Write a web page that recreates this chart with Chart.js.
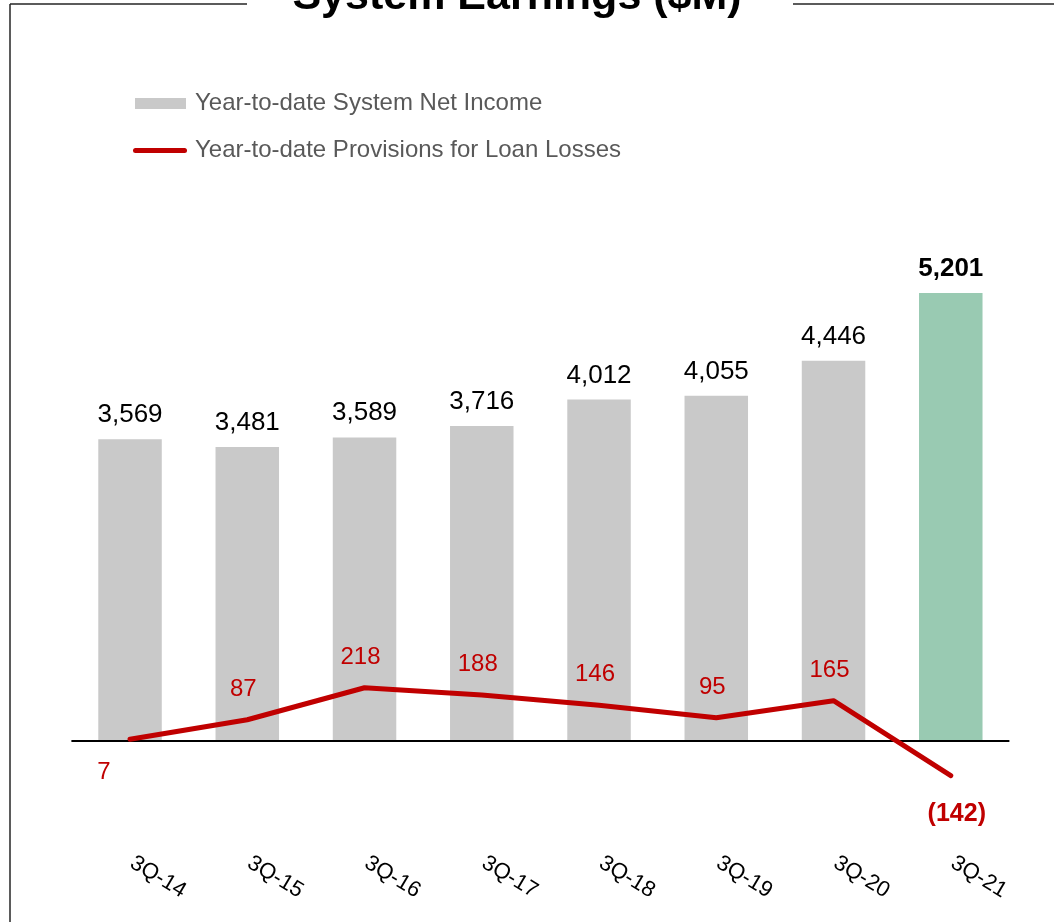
<!DOCTYPE html>
<html>
<head>
<meta charset="utf-8">
<script src="https://cdn.jsdelivr.net/npm/chart.js@4"></script>
<style>
  html, body { margin: 0; padding: 0; background: #ffffff; }
  canvas { display: block; }
</style>
</head>
<body>
<canvas id="c" width="1054" height="922"></canvas>
<script>
// ---- data ----
const categories = ['3Q-14', '3Q-15', '3Q-16', '3Q-17', '3Q-18', '3Q-19', '3Q-20', '3Q-21'];
const netIncome = [3569, 3481, 3589, 3716, 4012, 4055, 4446, 5201];
const provisions = [7, 87, 218, 188, 146, 95, 165, -142];
const seriesNames = ['Year-to-date System Net Income', 'Year-to-date Provisions for Loan Losses'];
const chartTitle = 'System Earnings ($M)';

// ---- styles ----
const FONT = '"Liberation Sans", Arial, Helvetica, sans-serif';
const GRAY = '#C9C9C9';
const GREEN = '#99CAB2';
const RED = '#C00000';
const barColors = categories.map((c, i) => (i === categories.length - 1 ? GREEN : GRAY));
// where each provision label sits relative to its point
const lineLabelPlacement = ['belowLeft', 'above', 'above', 'above', 'above', 'above', 'above', 'belowBold'];

function fmt(v) {
  const s = Math.abs(v).toLocaleString('en-US');
  return v < 0 ? '(' + s + ')' : s;
}

const decor = {
  id: 'decor',
  beforeDraw(chart) {
    const ctx = chart.ctx;
    ctx.save();
    ctx.fillStyle = '#ffffff';
    ctx.fillRect(0, 0, chart.width, chart.height);
    // frame
    ctx.strokeStyle = '#262626';
    ctx.lineWidth = 1.5;
    ctx.beginPath();
    ctx.moveTo(10, 4); ctx.lineTo(247, 4);
    ctx.moveTo(793, 4); ctx.lineTo(1054, 4);
    ctx.moveTo(10, 4); ctx.lineTo(10, 922);
    ctx.stroke();
    // title
    ctx.fillStyle = '#000000';
    ctx.font = 'bold 43px ' + FONT;
    ctx.textAlign = 'center';
    ctx.textBaseline = 'alphabetic';
    ctx.fillText(chartTitle, 517, 8.5);
    // legend
    const ds = chart.data.datasets;
    ctx.fillStyle = GRAY;
    ctx.fillRect(135, 98, 51, 11);
    ctx.strokeStyle = ds[1].borderColor;
    ctx.lineWidth = 5;
    ctx.lineCap = 'round';
    ctx.beginPath();
    ctx.moveTo(135.5, 150.5); ctx.lineTo(184.5, 150.5);
    ctx.stroke();
    ctx.fillStyle = '#595959';
    ctx.font = '24px ' + FONT;
    ctx.textAlign = 'left';
    ctx.fillText(ds[0].label, 195, 110);
    ctx.fillText(ds[1].label, 195, 157);
    ctx.restore();
  },
  beforeDatasetDraw(chart, args) {
    if (args.index !== 1) return;
    // horizontal zero line
    const ctx = chart.ctx;
    const y0 = chart.scales.y1.getPixelForValue(0);
    const a = chart.chartArea;
    ctx.save();
    ctx.strokeStyle = '#000000';
    ctx.lineWidth = 2;
    ctx.beginPath();
    ctx.moveTo(a.left, y0); ctx.lineTo(a.right, y0);
    ctx.stroke();
    ctx.restore();
  },
  afterDatasetsDraw(chart) {
    const ctx = chart.ctx;
    ctx.save();
    ctx.textAlign = 'center';
    ctx.textBaseline = 'alphabetic';
    // bar value labels
    const bm = chart.getDatasetMeta(0);
    bm.data.forEach((el, i) => {
      const last = i === bm.data.length - 1;
      ctx.font = (last ? 'bold ' : '') + '26px ' + FONT;
      ctx.fillStyle = '#000000';
      ctx.fillText(fmt(netIncome[i]), el.x, el.y - 17);
    });
    // line value labels
    const lm = chart.getDatasetMeta(1);
    lm.data.forEach((el, i) => {
      const p = lineLabelPlacement[i];
      ctx.fillStyle = RED;
      if (p === 'belowBold') {
        ctx.font = 'bold 25px ' + FONT;
        ctx.fillText(fmt(provisions[i]), el.x + 6, el.y + 45);
      } else if (p === 'belowLeft') {
        ctx.font = '24px ' + FONT;
        ctx.fillText(fmt(provisions[i]), el.x - 26, el.y + 40);
      } else {
        ctx.font = '24px ' + FONT;
        ctx.fillText(fmt(provisions[i]), el.x - 4, el.y - 24);
      }
    });
    // category labels (rotated)
    const xs = chart.scales.x;
    ctx.fillStyle = '#000000';
    ctx.font = '22px ' + FONT;
    ctx.textBaseline = 'middle';
    categories.forEach((c, i) => {
      const x = xs.getPixelForValue(i);
      ctx.save();
      ctx.translate(x + 28, 877);
      ctx.rotate(31 * Math.PI / 180);
      ctx.fillText(c, 0, 0);
      ctx.restore();
    });
    ctx.restore();
  }
};

new Chart(document.getElementById('c'), {
  type: 'bar',
  data: {
    labels: categories,
    datasets: [
      {
        type: 'bar',
        label: seriesNames[0],
        data: netIncome,
        backgroundColor: barColors,
        borderWidth: 0,
        yAxisID: 'y',
        order: 2,
        barPercentage: 0.5415,
        categoryPercentage: 1,
        base: 190
      },
      {
        type: 'line',
        label: seriesNames[1],
        data: provisions,
        borderColor: RED,
        borderWidth: 5,
        pointRadius: 0,
        pointHoverRadius: 0,
        tension: 0,
        borderCapStyle: 'round',
        borderJoinStyle: 'round',
        fill: false,
        yAxisID: 'y1',
        order: 1
      }
    ]
  },
  options: {
    responsive: false,
    animation: false,
    devicePixelRatio: 1,
    layout: { padding: { left: 71.4, right: 44.6, top: 200, bottom: 122 } },
    plugins: {
      legend: { display: false },
      title: { display: false },
      tooltip: { enabled: false }
    },
    scales: {
      x: { display: false, offset: true, grid: { display: false } },
      y: { display: false, min: -461.3, max: 6240.4 },
      y1: { display: false, position: 'right', min: -241.4, max: 2213.6 }
    }
  },
  plugins: [decor]
});
</script>
</body>
</html>
